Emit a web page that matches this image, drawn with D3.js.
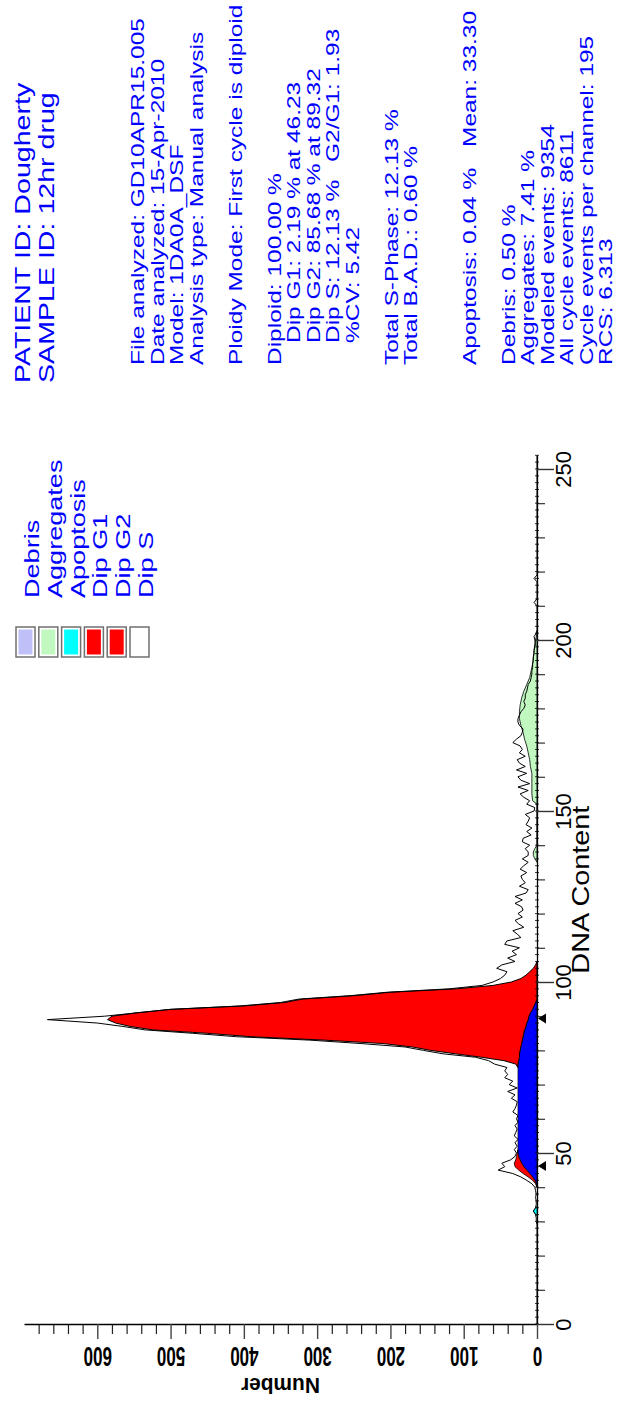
<!DOCTYPE html>
<html><head><meta charset="utf-8">
<script src="https://cdn.jsdelivr.net/npm/d3@7"></script>
<style>html,body{margin:0;padding:0;background:#fff}svg{display:block}</style>
</head><body>
<svg id="c" width="617" height="1402"></svg>
<script>
// ---------------- DATA ----------------
const titleLines = ["PATIENT ID:  Dougherty", "SAMPLE ID:  12hr drug"];
const infoLines = [
  "File analyzed: GD10APR15.005",
  "Date analyzed: 15-Apr-2010",
  "Model: 1DA0A_DSF",
  "Analysis type: Manual analysis",
  "",
  "Ploidy Mode: First cycle is diploid",
  "",
  "Diploid: 100.00 %",
  "   Dip G1: 2.19 % at 46.23",
  "   Dip G2: 85.68 % at 89.32",
  "   Dip S: 12.13 %",
  "   %CV: 5.42",
  "",
  "Total S-Phase: 12.13 %",
  "Total B.A.D.: 0.60 %",
  "",
  "",
  "Apoptosis: 0.04 %",
  "",
  "Debris: 0.50 %",
  "Aggregates: 7.41 %",
  "Modeled events: 9354",
  "All cycle events: 8611",
  "Cycle events per channel: 195",
  "RCS: 6.313"
];
const infoSecond = {10: "G2/G1: 1.93", 17: "Mean: 33.30"};

const legendNames = ["Debris", "Aggregates", "Apoptosis", "Dip G1", "Dip G2", "Dip S"];
const legendColors = ["#C0C0F8", "#C0F8C0", "#00FFFF", "#FF0000", "#FF0000", "#FFFFFF"];

const dnaMajorTicks = [0, 50, 100, 150, 200, 250];
const numberMajorTicks = [0, 100, 200, 300, 400, 500, 600];

// raw histogram, channel 0..254
const rawCounts = [
  0,0,0,0,0,0,0,0,0,0,
  0,0,0,0,0,0,0,0,0,0,
  0,0,0,0,0,0,0,0,0,0,
  1,1,2,5,2,1,1,2,1,2,
  3,7,14,22,33,53,44,48,36,30,
  28,31,27,30,26,31,29,27,30,26,
  28,26,33,30,28,27,35,30,40,27,
  38,33,44,40,44,41,58,66,84,128,
  155,180,240,310,410,470,535,565,600,668,
  590,545,500,405,350,325,255,205,120,75,
  60,50,44,41,55,48,30,40,28,34,
  24,44,41,22,27,33,18,25,30,20,
  26,19,21,30,20,30,15,12,24,16,
  20,22,14,23,18,12,20,12,12,16,
  10,20,19,8,14,7,15,12,10,16,
  4,3,14,10,18,23,12,26,10,22,
  26,14,28,16,24,27,16,24,20,23,
  33,28,22,20,19,24,26,26,24,22,
  18,16,18,16,16,14,13,12,9,8,
  7,7,6,6,5,5,4,4,3,2,
  3,4,1,0,0,0,0,0,0,0,
  0,4,0,0,0,0,0,0,4,0,
  0,0,0,0,0,0,0,0,0,0,
  0,0,0,0,0,0,0,0,0,0,
  0,0,0,0,0,0,0,0,0,0,
  0,0,0,0,0
];

// S phase (bottom layer)
const sChannels = [40,41,42,43,44,45,46,47,48,49,50,51,52,53,54,55,56,57,58,59,60,61,62,63,64,65,66,67,68,69,70,71,72,73,74,75,76,77,78,79,80,81,82,83,84,85,86,87,88,89,90,91,92,93,94,95];
const sValues   = [0,1,3,6,10,14,18,21,23,25,26,26,26,26,26,26,26,26,26,26,26,26,26,26,26,26,26,26,26,26,26,26,26,26,26,26,26,25,24,24,23,22,21,20,19,18,17,15,14,12,11,9,6,4,2,0];

// G1 (stacked on S)
const g1Channels = [40,41,42,43,44,45,46,47,48,49,50,51];
const g1Values   = [0,1,3,6,9,11,12,10,6,3,1,0];

// G2 (stacked on S)
const g2Channels = [75,76,77,78,79,80,81,82,83,84,85,86,87,88,89,90,91,92,93,94,95,96,97,98,99,100,101,102,103,104,105,106];
const g2Values   = [0,3,20,52,87,122,148,189,270,371,432,507,540,561,574,569,537,494,396,343,320,250,200,110,60,35,22,15,10,5,2,0];

// Aggregates
const aggChannels = [135,136,137,138,139,140,152,153,155,158,161,163,165,167,169,171,173,175,177,179,181,183,185,187,189,191,193,195,197,199,201,202];
const aggValues   = [0,3,5,5,3,0,0,6,7,7,7,9,10,12,14,17,19,22,24,24,23,21,18,14,10,8,6,5,4,3,1,0];

// Apoptosis
const apopChannels = [31.5, 33, 34.5];
const apopValues   = [0, 5, 0];

// peak markers
const peakChannels = [46.23, 89.32];

// ---------------- DRAW ----------------
const FONT = "'Liberation Sans', Arial, Helvetica, sans-serif";
const BLUE = "#0000FF";
const svg = d3.select("#c");

const yScale = d3.scaleLinear().domain([0, 254]).range([1324, 455.3]); // DNA content (vertical)
const xScale = d3.scaleLinear().domain([0, 700]).range([537, 24]);    // Number (horizontal)

// --- info text
const info = svg.append("g").attr("fill", BLUE).attr("font-family", FONT).style("white-space", "pre");
info.selectAll("text.title").data(titleLines).join("text").attr("class", "title")
  .attr("font-size", 22)
  .attr("transform", (d, i) => `translate(${30 + i * 24},383) rotate(-90) scale(1.3,1)`)
  .text(d => d);

const infoData = infoLines.map((t, i) => ({t, i})).filter(d => d.t !== "");
info.selectAll("text.info").data(infoData).join("text").attr("class", "info")
  .attr("font-size", 17.5)
  .attr("transform", d => {
    const indent = d.t.startsWith(" ") ? 22 : 0;
    return `translate(${144 + d.i * 19.5},${365 - indent}) rotate(-90) scale(1.4,1)`;
  })
  .text(d => d.t.trim());

const secondData = Object.entries(infoSecond).map(([i, t]) => ({i: +i, t}));
const secondStart = {10: 162, 17: 147};
info.selectAll("text.second").data(secondData).join("text").attr("class", "second")
  .attr("font-size", 17.5)
  .attr("transform", d => `translate(${144 + d.i * 19.5},${secondStart[d.i]}) rotate(-90) scale(1.4,1)`)
  .text(d => d.t);

// --- legend
const leg = svg.append("g");
legendNames.forEach((name, i) => {
  const lx = 16 + i * 22.8;
  leg.append("rect").attr("x", lx).attr("y", 627).attr("width", 19).attr("height", 30)
    .attr("fill", "#fff").attr("stroke", "#707070").attr("stroke-width", 1.5);
  leg.append("rect").attr("x", lx + 2.5).attr("y", 629.5).attr("width", 14).attr("height", 25)
    .attr("fill", legendColors[i]);
  leg.append("text").attr("font-family", FONT).attr("font-size", 21).attr("fill", BLUE)
    .attr("transform", `translate(${lx + 9.5 + 13.5},598) rotate(-90) scale(1.29,1)`)
    .text(name);
});

// --- areas
const sMap = new Map(sChannels.map((c, i) => [c, sValues[i]]));
const sBase = c => sMap.has(c) ? sMap.get(c) : 0;

const vArea = d3.area().y(d => yScale(d.ch)).x0(d => xScale(d.lo)).x1(d => xScale(d.hi));

const sData = sChannels.map((c, i) => ({ch: c, lo: 0, hi: sValues[i]}));
const g1Data = g1Channels.map((c, i) => ({ch: c, lo: sBase(c), hi: sBase(c) + g1Values[i]}));
const g2Data = g2Channels.map((c, i) => ({ch: c, lo: sBase(c), hi: sBase(c) + g2Values[i]}));
const aggData = aggChannels.map((c, i) => ({ch: c, lo: 0, hi: aggValues[i]}));
const apopData = apopChannels.map((c, i) => ({ch: c, lo: 0, hi: apopValues[i]}));

const plot = svg.append("g");
plot.append("path").attr("d", vArea(aggData)).attr("fill", "#C0F8C0").attr("stroke", "#000").attr("stroke-width", 0.8);
plot.append("path").attr("d", vArea(apopData)).attr("fill", "#00FFFF").attr("stroke", "#000").attr("stroke-width", 0.5);
plot.append("path").attr("d", vArea(sData)).attr("fill", "#0000FF").attr("stroke", "#000").attr("stroke-width", 0.6);
plot.append("path").attr("d", vArea(g1Data)).attr("fill", "#FF0000").attr("stroke", "#000").attr("stroke-width", 0.8);
plot.append("path").attr("d", vArea(g2Data)).attr("fill", "#FF0000").attr("stroke", "#000").attr("stroke-width", 1);

const rawLine = d3.line().y((d, i) => yScale(i)).x(d => xScale(d));
plot.append("path").attr("d", rawLine(rawCounts)).attr("fill", "none").attr("stroke", "#000").attr("stroke-width", 1);

// --- DNA axis (vertical)
const dnaG = svg.append("g").attr("transform", `translate(${xScale(0)},0)`);
dnaG.selectAll("line.tiny").data(d3.range(0, 255, 2)).join("line").attr("class", "tiny")
  .attr("x1", -2).attr("x2", 2).attr("y1", d => yScale(d)).attr("y2", d => yScale(d))
  .attr("stroke", "#000").attr("stroke-width", 0.8);
const dnaMinor = d3.axisRight(yScale).tickValues(d3.range(10, 255, 10).filter(v => v % 50 !== 0))
  .tickSize(8).tickSizeOuter(0).tickFormat("");
dnaG.append("g").call(dnaMinor).call(g => g.select(".domain").remove())
  .selectAll("line").attr("stroke", "#333").attr("stroke-width", 1.2);
const dnaMajor = d3.axisRight(yScale).tickValues(dnaMajorTicks).tickSize(17).tickSizeOuter(0);
dnaG.append("g").call(dnaMajor).call(g => {
  g.select(".domain").attr("stroke", "#000").attr("stroke-width", 1.3);
  g.selectAll(".tick line").attr("stroke", "#333").attr("stroke-width", 1.4);
  g.selectAll(".tick text").attr("x", null).attr("dy", null)
    .attr("font-family", FONT).attr("font-size", 22).attr("fill", "#000")
    .attr("text-anchor", "middle")
    .attr("transform", "translate(34,0) rotate(-90)");
});
svg.append("text").attr("font-family", FONT).attr("font-size", 24).attr("fill", "#000")
  .attr("text-anchor", "middle")
  .attr("transform", `translate(589,${yScale(127)}) rotate(-90) scale(1.2,1)`)
  .text("DNA Content");

// peak markers
svg.selectAll("path.mark").data(peakChannels).join("path").attr("class", "mark")
  .attr("d", d => {
    const x0 = xScale(0), yc = yScale(d);
    return `M${x0 + 1},${yc} L${x0 + 9},${yc - 5} L${x0 + 9},${yc + 5} Z`;
  }).attr("fill", "#000");

// --- Number axis (horizontal, bottom)
const numG = svg.append("g").attr("transform", `translate(0,${yScale(0)})`);
const numMinor = d3.axisBottom(xScale).tickValues(d3.range(20, 701, 20).filter(v => v % 100 !== 0))
  .tickSize(10).tickSizeOuter(0).tickFormat("");
numG.append("g").call(numMinor).call(g => g.select(".domain").remove())
  .selectAll("line").attr("stroke", "#222").attr("stroke-width", 1.2);
const numMajor = d3.axisBottom(xScale).tickValues(numberMajorTicks).tickSize(15).tickSizeOuter(0);
numG.append("g").call(numMajor).call(g => {
  g.select(".domain").attr("stroke", "#000").attr("stroke-width", 1.3);
  g.selectAll(".tick line").attr("stroke", "#444").attr("stroke-width", 1.4);
  g.selectAll(".tick text").attr("y", null).attr("dy", null)
    .attr("font-family", FONT).attr("font-size", 17).attr("font-weight", "bold").attr("fill", "#000")
    .attr("text-anchor", "middle")
    .attr("transform", "translate(0,23) rotate(180) scale(1,1.6)");
});
svg.append("text").attr("font-family", FONT).attr("font-size", 22).attr("font-weight", "bold").attr("fill", "#000")
  .attr("text-anchor", "middle")
  .attr("transform", `translate(${xScale(350)},1378) rotate(180) scale(0.95,1)`)
  .text("Number");
</script>
</body></html>
